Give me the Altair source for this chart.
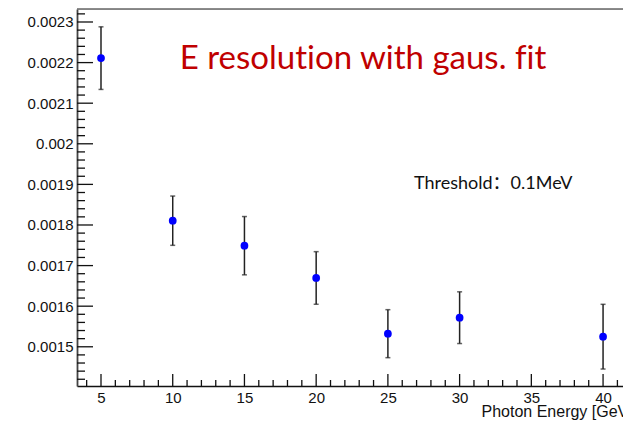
import altair as alt
import pandas as pd

# ---- data ----
energy = [5, 10, 15, 20, 25, 30, 40]
resolution = [0.002211, 0.0018106, 0.001749, 0.0016695, 0.0015323, 0.0015717, 0.0015249]
error = [0.0000771, 0.0000607, 0.0000718, 0.0000648, 0.0000591, 0.0000637, 0.0000797]

x_major = [5, 10, 15, 20, 25, 30, 35, 40]
x_minor = [4, 6, 7, 8, 9, 11, 12, 13, 14, 16, 17, 18, 19, 21, 22, 23, 24,
           26, 27, 28, 29, 31, 32, 33, 34, 36, 37, 38, 39, 41]
y_major = [0.0015, 0.0016, 0.0017, 0.0018, 0.0019, 0.0020, 0.0021, 0.0022, 0.0023]
y_minor = [0.00142, 0.00144, 0.00146, 0.00148,
           0.00152, 0.00154, 0.00156, 0.00158,
           0.00162, 0.00164, 0.00166, 0.00168,
           0.00172, 0.00174, 0.00176, 0.00178,
           0.00182, 0.00184, 0.00186, 0.00188,
           0.00192, 0.00194, 0.00196, 0.00198,
           0.00202, 0.00204, 0.00206, 0.00208,
           0.00212, 0.00214, 0.00216, 0.00218,
           0.00222, 0.00224, 0.00226, 0.00228,
           0.00232]

# zero-width non-joiners keep the font from forming "ti"/"fi" ligatures
title_text = "E resolut\u200cion with gaus. f\u200cit"
note_text = "Threshold：0.1MeV"
x_title = "Photon Energy [GeV]"

X_DOMAIN = [3.327, 41.39]
Y_DOMAIN = [0.0014034, 0.002332]
W, H = 546, 377

df = pd.DataFrame({
    "energy": energy,
    "res": resolution,
    "lo": [r - e for r, e in zip(resolution, error)],
    "hi": [r + e for r, e in zip(resolution, error)],
})

xs = alt.Scale(domain=X_DOMAIN, nice=False, zero=False)
ys = alt.Scale(domain=Y_DOMAIN, nice=False, zero=False)

x_axis = alt.Axis(values=x_major, title=x_title, ticks=False, grid=False,
                  domainColor="#111", domainWidth=1.6,
                  labelFont="Liberation Sans", labelFontSize=15, labelColor="#111",
                  labelPadding=4,
                  titleFont="Liberation Sans", titleFontSize=16, titleFontWeight="normal",
                  titleColor="#111", titleAlign="left", titleAnchor="start",
                  titleX=404, titleY=30.5, titleBaseline="alphabetic")
y_axis = alt.Axis(values=y_major, format=".4~f", title=None, ticks=False, grid=False,
                  domainColor="#444", domainWidth=1.8,
                  labelFont="Liberation Sans", labelFontSize=15, labelColor="#111",
                  labelPadding=4)


def X(field):
    return alt.X(field, scale=xs, axis=x_axis, title=x_title)


def Y(field):
    return alt.Y(field, scale=ys, axis=y_axis, title=None)


base = alt.Chart(df)

bars = base.mark_rule(color="#222", strokeWidth=1.5).encode(
    x=X("energy:Q"), y=Y("lo:Q"), y2="hi:Q")
cap_lo = base.mark_tick(color="#222", thickness=1.5, size=5, orient="horizontal").encode(
    x=X("energy:Q"), y=Y("lo:Q"))
cap_hi = base.mark_tick(color="#222", thickness=1.5, size=5, orient="horizontal").encode(
    x=X("energy:Q"), y=Y("hi:Q"))
pts = base.mark_point(filled=True, shape="circle", size=60, color="#0000ff", opacity=1).encode(
    x=X("energy:Q"), y=Y("res:Q"))

# axis ticks pointing inward
xmaj = alt.Chart(pd.DataFrame({"energy": x_major})).mark_rule(color="#111", strokeWidth=1.3).encode(
    x=X("energy:Q"), y=alt.value(H), y2=alt.value(H - 12))
xmin = alt.Chart(pd.DataFrame({"energy": x_minor})).mark_rule(color="#111", strokeWidth=1.3).encode(
    x=X("energy:Q"), y=alt.value(H), y2=alt.value(H - 6))
ymaj = alt.Chart(pd.DataFrame({"res": y_major})).mark_rule(color="#111", strokeWidth=1.3).encode(
    y=Y("res:Q"), x=alt.value(0), x2=alt.value(16))
ymin = alt.Chart(pd.DataFrame({"res": y_minor})).mark_rule(color="#111", strokeWidth=1.3).encode(
    y=Y("res:Q"), x=alt.value(0), x2=alt.value(8))

top_line = alt.Chart(pd.DataFrame({"a": [0]})).mark_rule(color="#666", strokeWidth=1.5).encode(
    x=alt.value(0), x2=alt.value(W), y=alt.value(0))

title = alt.Chart(pd.DataFrame({"t": [title_text]})).mark_text(
    font="Lato", fontSize=33, color="#C00000", align="center", baseline="alphabetic"
).encode(text="t:N", x=alt.value(286), y=alt.value(60))

note = alt.Chart(pd.DataFrame({"t": [note_text]})).mark_text(
    font="Lato, 'Noto Sans CJK SC'", fontSize=18, color="#111", align="left",
    baseline="alphabetic"
).encode(text="t:N", x=alt.value(337), y=alt.value(180))

chart = alt.layer(bars, cap_lo, cap_hi, pts, xmaj, xmin, ymaj, ymin, top_line, title, note).properties(
    width=W, height=H,
    padding={"left": 77, "top": 9, "right": 0, "bottom": 36},
    autosize=alt.AutoSizeParams(type="none"),
).configure_view(stroke=None).configure(background="white")

chart.save("out.html", embed_options={"renderer": "svg", "actions": False})
